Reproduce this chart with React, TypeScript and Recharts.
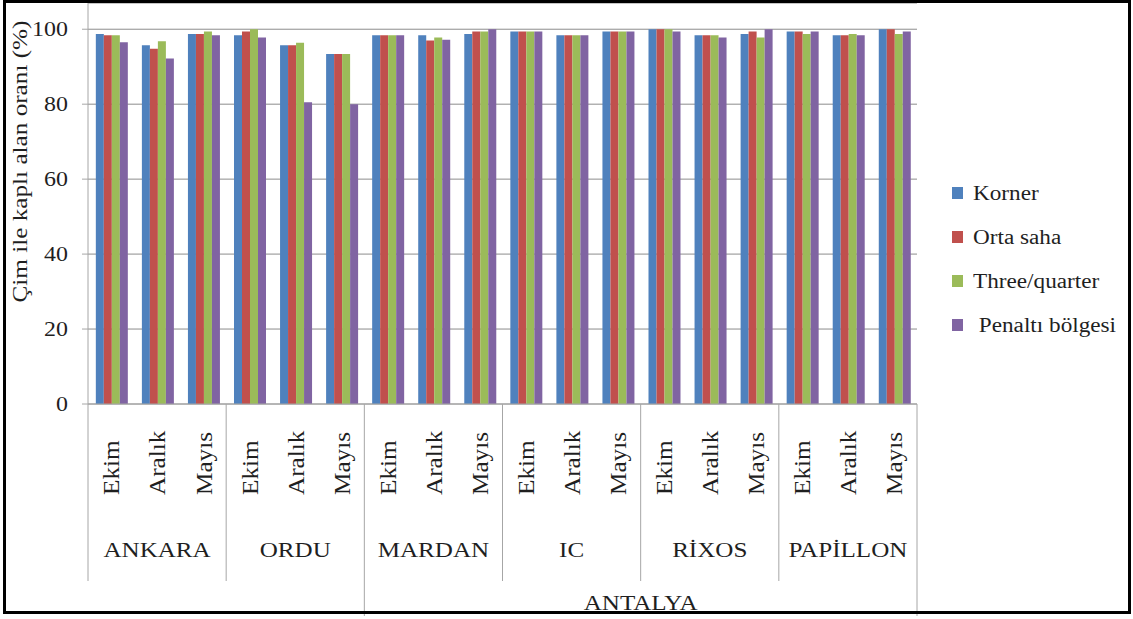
import React from 'react';
import { BarChart, Bar, XAxis, YAxis, CartesianGrid, Label } from 'recharts';

// venues (bottom row) and survey months (rotated row)
const venues = ['ANKARA', 'ORDU', 'MARDAN', 'IC', 'RİXOS', 'PAPİLLON'];
const months = ['Ekim', 'Aralık', 'Mayıs'];
// venues grouped under the ANTALYA bracket
const antalyaVenues = ['MARDAN', 'IC', 'RİXOS', 'PAPİLLON'];
const yTicks = [0, 20, 40, 60, 80, 100];

// grass covered area (%) per venue/month, in venue order
const korner = [98.7, 95.7, 98.7, 98.4, 95.7, 93.4, 98.4, 98.4, 98.7, 99.4, 98.4, 99.4, 100, 98.4, 98.7, 99.4, 98.4, 100];
const ortaSaha = [98.4, 94.8, 98.7, 99.4, 95.7, 93.4, 98.4, 97.0, 99.4, 99.4, 98.4, 99.4, 100, 98.4, 99.4, 99.4, 98.4, 100];
const threeQuarter = [98.4, 96.8, 99.4, 100, 96.4, 93.4, 98.4, 97.8, 99.4, 99.4, 98.4, 99.4, 100, 98.4, 97.8, 98.7, 98.7, 98.7];
const penalti = [96.5, 92.2, 98.4, 97.8, 80.5, 80.0, 98.4, 97.2, 100, 99.4, 98.4, 99.4, 99.4, 97.8, 100, 99.4, 98.4, 99.4];

const series = [
  { key: 'korner', name: 'Korner', color: '#4F81BD', values: korner },
  { key: 'ortaSaha', name: 'Orta saha', color: '#C0504D', values: ortaSaha },
  { key: 'threeQuarter', name: 'Three/quarter', color: '#9BBB59', values: threeQuarter },
  { key: 'penalti', name: ' Penaltı bölgesi', color: '#8064A2', values: penalti },
];

const data = venues.flatMap((venue, v) =>
  months.map((month, m) => {
    const i = v * 3 + m;
    const row: Record<string, any> = { id: `${venue}-${month}`, venue, month };
    series.forEach((s) => (row[s.key] = s.values[i]));
    return row;
  })
);

const W = 1133;
const H = 619;
const Y_AXIS_W = 88;
const MARGIN_RIGHT = 216;
const X_AXIS_H = 215;
const BAND = (W - Y_AXIS_W - MARGIN_RIGHT) / data.length;

const FONT = 'Liberation Serif, Times New Roman, DejaVu Serif, serif';
const TEXT = '#1f1f1f';
const AXIS = '#a6a6a6';

function YTick(props: any) {
  const { x, y, payload } = props;
  return (
    <text
      transform={`translate(${x},${y}) scale(1.14,1)`}
      textAnchor="end"
      dy="0.34em"
      style={{ fontFamily: FONT }}
      fontSize={21}
      fill={TEXT}
    >
      {payload.value}
    </text>
  );
}

function XTick(props: any) {
  const { x, y, index } = props;
  const row = data[index];
  const m = index % 3;
  const half = BAND / 2;
  const firstAntalya = venues.indexOf(antalyaVenues[0]) * 3;
  const lastAntalya = venues.indexOf(antalyaVenues[antalyaVenues.length - 1]) * 3 + 2;

  return (
    <g>
      <text
        transform={`translate(${x},${y + 91}) rotate(-90) scale(1.05,1)`}
        dy="0.35em"
        textAnchor="start"
        style={{ fontFamily: FONT }}
        fontSize={24}
        fill={TEXT}
      >
        {row.month}
      </text>
      {m === 0 && (
        <line
          x1={x - half}
          x2={x - half}
          y1={y}
          y2={y + (index === firstAntalya ? 212 : 177)}
          stroke={AXIS}
        />
      )}
      {index === lastAntalya && (
        <line x1={x + half} x2={x + half} y1={y} y2={y + 212} stroke={AXIS} />
      )}
      {m === 1 && (
        <text
          transform={`translate(${x},${y + 153}) scale(1.14,1)`}
          textAnchor="middle"
          style={{ fontFamily: FONT }}
          fontSize={22}
          fill={TEXT}
        >
          {row.venue}
        </text>
      )}
      {index === firstAntalya && (
        <text
          transform={`translate(${x + ((lastAntalya - firstAntalya) * BAND) / 2},${y + 206}) scale(1.14,1)`}
          textAnchor="middle"
          style={{ fontFamily: FONT }}
          fontSize={22}
          fill={TEXT}
        >
          ANTALYA
        </text>
      )}
    </g>
  );
}

function YLabel() {
  return (
    <text
      transform="translate(20,161.5) rotate(-90) scale(1.2,1)"
      textAnchor="middle"
      dy="0.35em"
      style={{ fontFamily: FONT }}
      fontSize={21}
      fill={TEXT}
    >
      Çim ile kaplı alan oranı (%)
    </text>
  );
}

export default function App() {
  return (
    <div style={{ position: 'relative', width: W, height: H, background: '#fff', fontFamily: FONT }}>
      <style>{'body{margin:0}'}</style>
      <BarChart
        width={W}
        height={H}
        data={data}
        margin={{ top: 3, right: MARGIN_RIGHT, bottom: 0, left: 0 }}
        barCategoryGap="17%"
        barGap={0}
        style={{ fontFamily: FONT }}
      >
        <CartesianGrid vertical={false} stroke="#8c8c8c" />
        <XAxis
          dataKey="id"
          interval={0}
          height={X_AXIS_H}
          tickSize={0}
          tickMargin={0}
          tickLine={false}
          axisLine={{ stroke: AXIS }}
          tick={XTick}
        />
        <YAxis
          width={Y_AXIS_W}
          domain={[0, 107]}
          ticks={yTicks}
          tickSize={6}
          tickMargin={14}
          tickLine={{ stroke: AXIS }}
          axisLine={{ stroke: AXIS }}
          tick={YTick}
        >
          <Label content={<YLabel />} />
        </YAxis>
        {series.map((s) => (
          <Bar key={s.key} dataKey={s.key} name={s.name} fill={s.color} isAnimationActive={false} />
        ))}
      </BarChart>

      {/* legend */}
      <div style={{ position: 'absolute', left: 952, top: 171, color: TEXT }}>
        {series.map((s) => (
          <div key={s.key} style={{ height: 44, display: 'flex', alignItems: 'center' }}>
            <span style={{ width: 11, height: 12, background: s.color, display: 'inline-block' }} />
            <span
              style={{
                marginLeft: 10,
                fontSize: 20,
                whiteSpace: 'pre',
                display: 'inline-block',
                transform: 'scaleX(1.16)',
                transformOrigin: 'left center',
              }}
            >
              {s.name}
            </span>
          </div>
        ))}
      </div>

      {/* outer frame */}
      <div
        style={{
          position: 'absolute',
          left: 3,
          top: 0,
          width: 1128,
          height: 614,
          border: '3px solid #000',
          boxSizing: 'border-box',
          pointerEvents: 'none',
        }}
      />
    </div>
  );
}
